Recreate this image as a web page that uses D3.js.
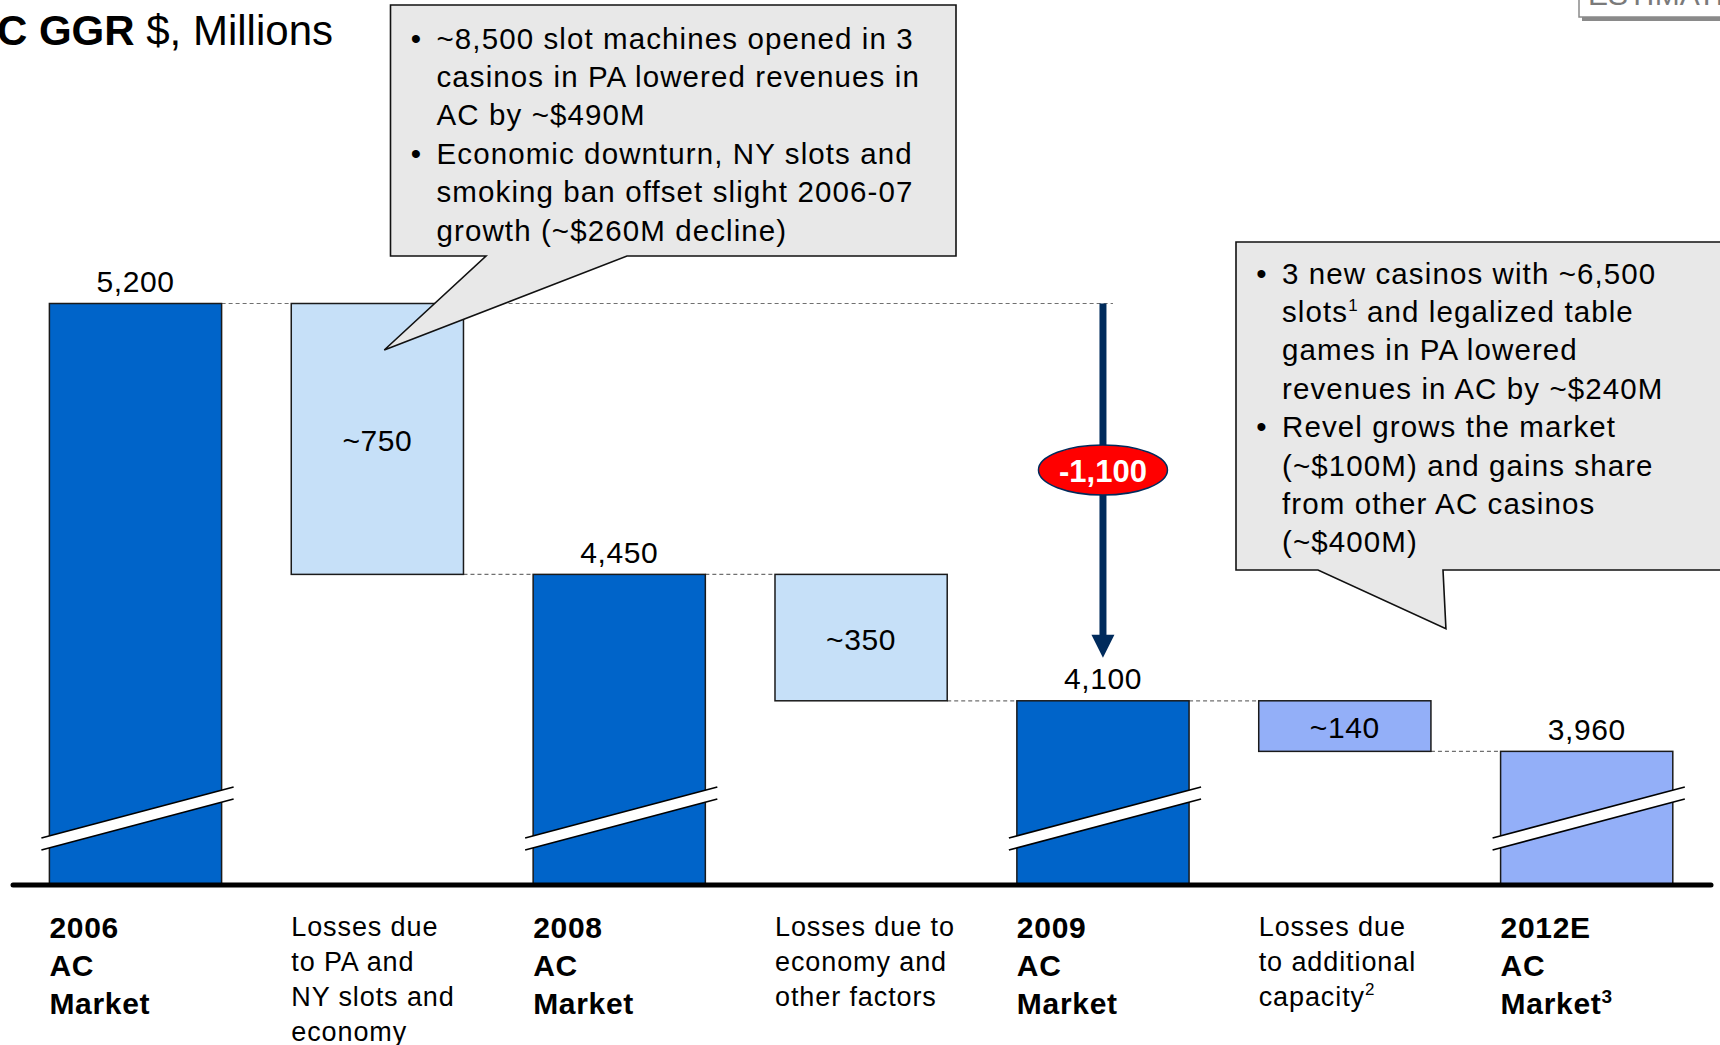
<!DOCTYPE html>
<html>
<head>
<meta charset="utf-8">
<script src="https://cdn.jsdelivr.net/npm/d3@7"></script>
<style>
  html, body { margin: 0; padding: 0; background: #fff; overflow: hidden; }
  svg { display: block; }
  text { font-family: "Liberation Sans", Arial, Helvetica, sans-serif; fill: #000; }
</style>
</head>
<body>
<svg id="chart" width="1720" height="1045"></svg>
<script>
// Atlantic City gross gaming revenue bridge, $ millions
const steps      = ["2006", "PA/NY slots", "2008", "Economy", "2009", "Capacity", "2012E"];
const stepTypes  = ["total", "delta", "total", "delta", "total", "delta", "total"];
const stepValues = [5200, -750, 4450, -350, 4100, -140, 3960];
const valueLabels = ["5,200", "~750", "4,450", "~350", "4,100", "~140", "3,960"];
const categoryLabels = [
  ["2006", "AC", "Market"],
  ["Losses due", "to PA and", "NY slots and", "economy"],
  ["2008", "AC", "Market"],
  ["Losses due to", "economy and", "other factors"],
  ["2009", "AC", "Market"],
  ["Losses due", "to additional", "capacity^2"],
  ["2012E", "AC", "Market^3"]
];
const changeFrom = "2006", changeTo = "2009";
const changeLabel = "-1,100";
const titleBold = "AC GGR", titleRest = " $, Millions";
const estimateTag = "ESTIMATE";
const calloutPA = [
  { bullet: true,  text: "~8,500 slot machines opened in 3" },
  { bullet: false, text: "casinos in PA lowered revenues in" },
  { bullet: false, text: "AC by ~$490M" },
  { bullet: true,  text: "Economic downturn, NY slots and" },
  { bullet: false, text: "smoking ban offset slight 2006-07" },
  { bullet: false, text: "growth (~$260M decline)" }
];
const calloutRevel = [
  { bullet: true,  text: "3 new casinos with ~6,500" },
  { bullet: false, text: "slots^1 and legalized table" },
  { bullet: false, text: "games in PA lowered" },
  { bullet: false, text: "revenues in AC by ~$240M" },
  { bullet: true,  text: "Revel grows the market" },
  { bullet: false, text: "(~$100M) and gains share" },
  { bullet: false, text: "from other AC casinos" },
  { bullet: false, text: "(~$400M)" }
];

// styling
const barFills = ["#0064C9", "#C6E0F8", "#0064C9", "#C6E0F8", "#0064C9", "#93AFF8", "#93AFF8"];
const NAVY = "#002B5C";
const axisFloor = 3590;   // broken value axis starts here

const svg = d3.select("#chart");
const baseY = 885;

const x = d3.scaleBand().domain(steps).range([49.4, 1672.8]).paddingInner(0.288).paddingOuter(0);
const y = d3.scaleLinear().domain([axisFloor, d3.max(stepValues)]).range([baseY, 303.5]);
const bw = x.bandwidth();

// waterfall extents
let running = 0;
const bars = steps.map((s, i) => {
  const v = stepValues[i];
  if (stepTypes[i] === "total") {
    running = v;
    return { s, i, type: "total", lo: axisFloor, hi: v, end: v };
  }
  const prev = running;
  running = prev + v;
  return { s, i, type: "delta", lo: running, hi: prev, end: running };
});

// helper: text with ^n superscripts
function richText(sel, str, supSize, lift) {
  const parts = str.split(/\^(\d)/);
  let raised = false;
  parts.forEach((p, k) => {
    if (p === "") return;
    if (k % 2 === 1) {
      sel.append("tspan").attr("dy", -lift).style("font-size", supSize + "px")
        .style("letter-spacing", "0px").text(p);
      raised = true;
    } else {
      const t = sel.append("tspan").text(p);
      if (raised) { t.attr("dy", lift); raised = false; }
    }
  });
}

// dashed connectors
const gDash = svg.append("g").attr("stroke", "#707070").attr("stroke-width", 1.2)
  .attr("stroke-dasharray", "4 3").attr("fill", "none");
const arrowX = x(changeTo) + bw / 2;
gDash.append("line")
  .attr("x1", x(steps[0]) + bw).attr("x2", arrowX + 10)
  .attr("y1", y(bars[0].end)).attr("y2", y(bars[0].end));
for (let i = 1; i < bars.length - 1; i++) {
  gDash.append("line")
    .attr("x1", x(steps[i]) + bw).attr("x2", x(steps[i + 1]))
    .attr("y1", y(bars[i].end)).attr("y2", y(bars[i].end));
}

// bars
svg.append("g").selectAll("rect").data(bars).join("rect")
  .attr("x", d => x(d.s)).attr("width", bw)
  .attr("y", d => y(d.hi)).attr("height", d => y(d.lo) - y(d.hi))
  .attr("fill", d => barFills[d.i])
  .attr("stroke", "#1a1a1a").attr("stroke-width", 1.5);

// axis-break marks on the total bars
const gBreak = svg.append("g");
bars.filter(d => d.type === "total").forEach(d => {
  const xl = x(d.s) - 8, xr = x(d.s) + bw + 12;
  const yl = baseY - 47, yr = baseY - 98, gap = 12;
  gBreak.append("path")
    .attr("d", `M${xl},${yl}L${xr},${yr}L${xr},${yr + gap}L${xl},${yl + gap}Z`)
    .attr("fill", "#fff");
  gBreak.append("line").attr("x1", xl).attr("y1", yl).attr("x2", xr).attr("y2", yr)
    .attr("stroke", "#000").attr("stroke-width", 1.6);
  gBreak.append("line").attr("x1", xl).attr("y1", yl + gap).attr("x2", xr).attr("y2", yr + gap)
    .attr("stroke", "#000").attr("stroke-width", 1.6);
});

// baseline
svg.append("line").attr("x1", 13).attr("x2", 1711).attr("y1", baseY).attr("y2", baseY)
  .attr("stroke", "#000").attr("stroke-width", 5).attr("stroke-linecap", "round");

// value labels
svg.append("g").selectAll("text").data(bars).join("text")
  .attr("x", d => x(d.s) + bw / 2)
  .attr("y", d => d.type === "total" ? y(d.hi) - 11.5 : (y(d.hi) + y(d.lo)) / 2 + 12)
  .attr("text-anchor", "middle")
  .style("font-size", "30px").style("letter-spacing", "0.6px")
  .text((d, i) => valueLabels[i]);

// category labels
categoryLabels.forEach((lines, i) => {
  const bold = stepTypes[i] === "total";
  const t = svg.append("text")
    .attr("x", x(steps[i]))
    .style("font-size", bold ? "30px" : "27px")
    .style("font-weight", bold ? "bold" : "normal")
    .style("letter-spacing", bold ? "0.7px" : "0.9px");
  lines.forEach((ln, k) => {
    const yy = bold ? 938 + k * 38 : 935.7 + k * 35;
    const line = t.append("tspan").attr("x", x(steps[i])).attr("y", yy);
    richText(line, ln, bold ? 19 : 17, 11);
  });
});

// total change arrow 2006 -> 2009
const fromVal = stepValues[steps.indexOf(changeFrom)];
const toVal = stepValues[steps.indexOf(changeTo)];
const tipY = y(toVal) - 43;
svg.append("line").attr("x1", arrowX).attr("x2", arrowX)
  .attr("y1", y(fromVal)).attr("y2", tipY - 20)
  .attr("stroke", NAVY).attr("stroke-width", 7);
svg.append("path")
  .attr("d", `M${arrowX - 11.5},${tipY - 23}L${arrowX + 11.5},${tipY - 23}L${arrowX},${tipY}Z`)
  .attr("fill", NAVY);
const ellY = y(fromVal) + 166.5;
svg.append("ellipse").attr("cx", arrowX).attr("cy", ellY).attr("rx", 64.5).attr("ry", 25)
  .attr("fill", "#FF0000").attr("stroke", NAVY).attr("stroke-width", 1.5);
svg.append("text").attr("x", arrowX).attr("y", ellY + 11.5).attr("text-anchor", "middle")
  .style("font-size", "31px").style("font-weight", "bold").style("fill", "#fff")
  .text(changeLabel);

// callouts
function callout(box, tip, baseL, baseR, lines, firstBaseline) {
  const g = svg.append("g");
  g.append("path")
    .attr("d", `M${box.l},${box.t}H${box.r}V${box.b}H${baseR}L${tip[0]},${tip[1]}L${baseL},${box.b}H${box.l}Z`)
    .attr("fill", "#E8E8E8").attr("stroke", "#111").attr("stroke-width", 1.6)
    .attr("stroke-linejoin", "miter");
  const tx = box.l + 46;
  lines.forEach((ln, k) => {
    const yy = firstBaseline + k * 38.4;
    if (ln.bullet) {
      g.append("text").attr("x", tx - 20.5).attr("y", yy).attr("text-anchor", "middle")
        .style("font-size", "29.5px").text("\u2022");
    }
    const t = g.append("text").attr("x", tx).attr("y", yy)
      .style("font-size", "29.5px").style("letter-spacing", "1.1px");
    richText(t, ln.text, 17, 11);
  });
}
const tip1 = [x(steps[1]) + 93, y(bars[1].hi) + 46.5];
callout({ l: 390.5, t: 5, r: 956, b: 256 }, tip1, 486, 627, calloutPA, 48.5);
const tip2 = [x(steps[5]) + bw + 15, y(bars[5].hi) - 72];
callout({ l: 1236, t: 242, r: 1745, b: 570 }, tip2, 1318, 1443, calloutRevel, 283.5);

// title (runs off the left edge of the page)
const title = svg.append("text").attr("x", 333).attr("y", 45).attr("text-anchor", "end")
  .style("font-size", "42px");
title.append("tspan").style("font-weight", "bold").text(titleBold);
title.append("tspan").text(titleRest);

// estimate tag (top-right)
svg.append("rect").attr("x", 1582).attr("y", -40).attr("width", 200).attr("height", 61)
  .attr("fill", "#8a8a8a");
svg.append("rect").attr("x", 1579).attr("y", -40).attr("width", 200).attr("height", 57)
  .attr("fill", "#fff").attr("stroke", "#8a8a8a").attr("stroke-width", 1.5);
svg.append("text").attr("x", 1588).attr("y", 5).style("font-size", "30px")
  .style("fill", "#7a7a7a").text(estimateTag);
</script>
</body>
</html>
